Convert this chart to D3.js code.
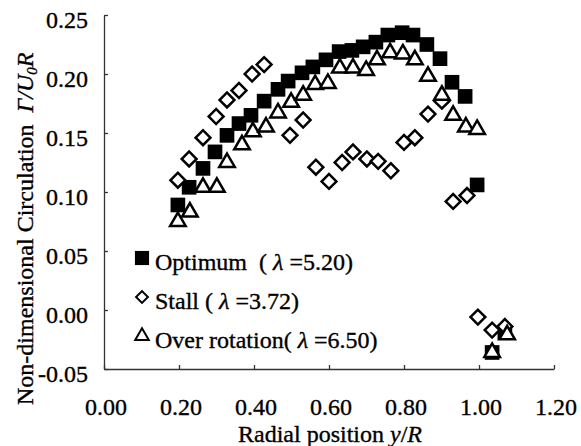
<!DOCTYPE html>
<html>
<head>
<meta charset="utf-8">
<script src="https://cdn.jsdelivr.net/npm/d3@7"></script>
<style>
  body { margin: 0; background: #fff; }
  text { font-family: "Liberation Serif", "Times New Roman", serif; fill: #000; stroke: #000; stroke-width: 0.35px; white-space: pre; }
</style>
</head>
<body>
<div id="chart"></div>
<script>
// data
var optX = [0.197, 0.227, 0.264, 0.296, 0.328, 0.360, 0.392, 0.427, 0.464, 0.491, 0.528, 0.557, 0.592, 0.627, 0.661, 0.691, 0.725, 0.757, 0.795, 0.824, 0.861, 0.896, 0.928, 0.963, 0.995, 1.035, 1.069];
var optY = [0.089, 0.104, 0.120, 0.134, 0.148, 0.158, 0.165, 0.177, 0.187, 0.194, 0.201, 0.206, 0.212, 0.219, 0.220, 0.223, 0.227, 0.233, 0.235, 0.233, 0.225, 0.213, 0.193, 0.181, 0.106, -0.036, -0.019];

var stallX = [0.197, 0.227, 0.264, 0.299, 0.328, 0.360, 0.395, 0.427, 0.496, 0.531, 0.565, 0.600, 0.635, 0.664, 0.701, 0.731, 0.765, 0.800, 0.829, 0.864, 0.901, 0.931, 0.968, 0.997, 1.035, 1.069];
var stallY = [0.110, 0.128, 0.146, 0.164, 0.178, 0.186, 0.200, 0.208, 0.148, 0.161, 0.121, 0.109, 0.125, 0.134, 0.128, 0.126, 0.118, 0.142, 0.146, 0.166, 0.177, 0.092, 0.097, -0.006, -0.017, -0.014];

var overX = [0.197, 0.229, 0.264, 0.301, 0.328, 0.368, 0.397, 0.432, 0.464, 0.499, 0.531, 0.563, 0.597, 0.629, 0.664, 0.699, 0.728, 0.763, 0.797, 0.829, 0.864, 0.901, 0.931, 0.965, 0.995, 1.035, 1.075];
var overY = [0.075, 0.083, 0.104, 0.104, 0.125, 0.140, 0.151, 0.155, 0.167, 0.176, 0.182, 0.191, 0.192, 0.205, 0.205, 0.203, 0.212, 0.218, 0.217, 0.212, 0.198, 0.182, 0.165, 0.155, 0.153, -0.036, -0.021];

var xTicks = [0, 0.2, 0.4, 0.6, 0.8, 1.0, 1.2];
var yTicks = [-0.05, 0, 0.05, 0.10, 0.15, 0.20, 0.25];

var width = 581, height = 446;

var x = d3.scaleLinear().domain([0, 1.2]).range([104, 554]);
var y = d3.scaleLinear().domain([-0.05, 0.25]).range([369, 15]);

var svg = d3.select("#chart").append("svg")
    .attr("width", width)
    .attr("height", height);

// axes, ticks point inwards
svg.append("g")
    .attr("transform", "translate(0," + y(-0.05) + ")")
    .call(d3.axisBottom(x).tickValues(xTicks).tickSizeInner(-4).tickSizeOuter(0).tickFormat(""));
svg.append("g")
    .attr("transform", "translate(" + x(0) + ",0)")
    .call(d3.axisLeft(y).tickValues(yTicks).tickSizeInner(-4).tickSizeOuter(0).tickFormat(""));
svg.selectAll(".domain, .tick line").attr("stroke", "#333").attr("stroke-width", 1.3);

// tick labels
svg.selectAll(".xlab").data(xTicks).enter().append("text")
    .attr("x", function(d) { return x(d) + 2; })
    .attr("y", 415)
    .attr("text-anchor", "middle")
    .style("font-size", "24px")
    .text(function(d) { return d.toFixed(2); });

svg.selectAll(".ylab").data(yTicks).enter().append("text")
    .attr("x", 88)
    .attr("y", function(d) { return y(d) + 13; })
    .attr("text-anchor", "end")
    .style("font-size", "24px")
    .text(function(d) { return d.toFixed(2); });

// axis titles
var xt = svg.append("text")
    .attr("x", 330)
    .attr("y", 442)
    .attr("text-anchor", "middle")
    .style("font-size", "24px");
xt.append("tspan").text("Radial position ");
xt.append("tspan").style("font-style", "italic").text("y");
xt.append("tspan").text("/");
xt.append("tspan").style("font-style", "italic").text("R");

var yt = svg.append("text")
    .attr("transform", "rotate(-90)")
    .attr("x", -405)
    .attr("y", 33)
    .style("font-size", "24px");
yt.append("tspan").text("Non-dimensional Circulation  ");
yt.append("tspan").style("font-style", "italic").text("Γ/U");
yt.append("tspan").style("font-style", "italic").style("font-size", "15px").attr("dy", 4).text("0");
yt.append("tspan").style("font-style", "italic").attr("dy", -4).text("R");

// markers
var optData = optX.map(function(d, i) { return {x: d, y: optY[i]}; });
var stallData = stallX.map(function(d, i) { return {x: d, y: stallY[i]}; });
var overData = overX.map(function(d, i) { return {x: d, y: overY[i]}; });

var sq = d3.symbol().type(d3.symbolSquare).size(215);
var dia = d3.symbol().type(d3.symbolSquare).size(110);
var tri = d3.symbol().type(d3.symbolTriangle).size(105);

svg.selectAll(".opt").data(optData).enter().append("path")
    .attr("d", sq)
    .attr("transform", function(d) { return "translate(" + x(d.x) + "," + y(d.y) + ")"; })
    .attr("fill", "#000");

svg.selectAll(".stall").data(stallData).enter().append("path")
    .attr("d", dia)
    .attr("transform", function(d) { return "translate(" + x(d.x) + "," + y(d.y) + ") rotate(45)"; })
    .attr("fill", "#fff")
    .attr("stroke", "#000")
    .attr("stroke-width", 2.5);

svg.selectAll(".over").data(overData).enter().append("path")
    .attr("d", tri)
    .attr("transform", function(d) { return "translate(" + x(d.x) + "," + y(d.y) + ")"; })
    .attr("fill", "#fff")
    .attr("stroke", "#000")
    .attr("stroke-width", 2.5);

// legend
var legend = [
  {sym: "sq", name: "Optimum  ( ", lam: "5.20)"},
  {sym: "dia", name: "Stall ( ", lam: "3.72)"},
  {sym: "tri", name: "Over rotation( ", lam: "6.50)"}
];
var lg = svg.selectAll(".leg").data(legend).enter().append("g")
    .attr("transform", function(d, i) { return "translate(142," + (258 + i * 39) + ")"; });
lg.append("path")
    .attr("d", function(d) {
      if (d.sym == "sq") return d3.symbol().type(d3.symbolSquare).size(200)();
      if (d.sym == "dia") return d3.symbol().type(d3.symbolSquare).size(70)();
      return d3.symbol().type(d3.symbolTriangle).size(80)();
    })
    .attr("transform", function(d) { return d.sym == "dia" ? "rotate(45)" : null; })
    .attr("fill", function(d) { return d.sym == "sq" ? "#000" : "#fff"; })
    .attr("stroke", "#000")
    .attr("stroke-width", function(d) { return d.sym == "sq" ? 0 : 2; });
var lt = lg.append("text")
    .attr("x", 13)
    .attr("y", 12)
    .style("font-size", "24px");
lt.append("tspan").text(function(d) { return d.name; });
lt.append("tspan").style("font-style", "italic").text("λ");
lt.append("tspan").text(function(d) { return " =" + d.lam; });
</script>
</body>
</html>
